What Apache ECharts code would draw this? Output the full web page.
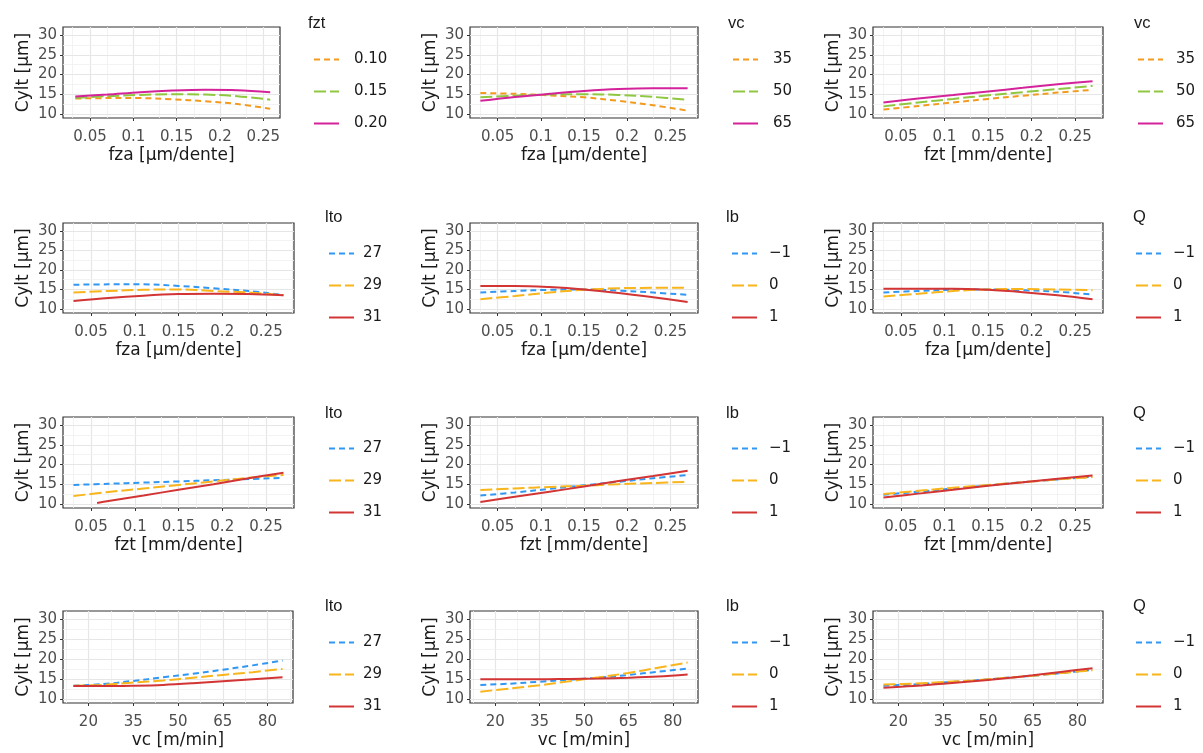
<!DOCTYPE html>
<html>
<head>
<meta charset="utf-8">
<script src="https://cdn.jsdelivr.net/npm/echarts@6/dist/echarts.min.js"></script>
<style>
    html, body { margin: 0; padding: 0; background: #fff; }
    #main { width: 1203px; height: 753px; }
</style>
</head>
<body>
<div id="main"></div>
<script>
    // x values of the fitted curves
    var fzX = [0.03, 0.07, 0.11, 0.15, 0.19, 0.23, 0.27];
    var fzX1 = [0.033, 0.07, 0.108, 0.145, 0.183, 0.22, 0.258];
    var fzX31 = [0.057, 0.07, 0.11, 0.15, 0.19, 0.23, 0.27];
    var vcX = [15, 25, 35, 45, 55, 65, 75, 85];

    // row 1: fza by fzt, fza by vc, fzt by vc
    var fza_fzt010 = [13.9, 14.0, 14.0, 13.7, 13.2, 12.5, 11.3];
    var fza_fzt015 = [14.0, 14.5, 14.8, 15.0, 14.9, 14.5, 13.6];
    var fza_fzt020 = [14.4, 14.9, 15.5, 15.9, 16.1, 16.0, 15.5];
    var fza_vc35 = [15.3, 15.1, 14.7, 14.2, 13.3, 12.2, 10.8];
    var fza_vc50 = [14.2, 14.6, 14.9, 15.0, 14.8, 14.3, 13.6];
    var fza_vc65 = [13.3, 14.3, 15.1, 15.8, 16.3, 16.5, 16.5];
    var fzt_vc35 = [11.1, 12.0, 12.9, 13.8, 14.6, 15.4, 16.1];
    var fzt_vc50 = [11.9, 12.9, 13.8, 14.7, 15.5, 16.3, 17.1];
    var fzt_vc65 = [12.9, 13.9, 14.8, 15.7, 16.6, 17.5, 18.3];

    // row 2: fza by lto, lb, Q
    var fza_lto27 = [16.2, 16.3, 16.3, 15.9, 15.3, 14.6, 13.6];
    var fza_lto29 = [14.2, 14.6, 14.9, 15.0, 14.6, 14.2, 13.5];
    var fza_lto31 = [12.0, 12.8, 13.4, 13.8, 13.9, 13.8, 13.5];
    var fza_lbM1 = [14.2, 14.6, 14.9, 15.0, 14.7, 14.2, 13.6];
    var fza_lb0 = [12.5, 13.3, 14.2, 14.9, 15.3, 15.4, 15.4];
    var fza_lb1 = [15.9, 15.9, 15.6, 15.0, 14.1, 13.0, 11.8];
    var fza_qM1 = [14.2, 14.6, 14.9, 15.0, 14.8, 14.4, 13.7];
    var fza_q0 = [13.2, 13.9, 14.6, 15.0, 15.1, 15.0, 14.8];
    var fza_q1 = [15.2, 15.2, 15.2, 14.9, 14.3, 13.5, 12.5];

    // row 3: fzt by lto, lb, Q
    var fzt_lto27 = [14.8, 15.1, 15.4, 15.7, 16.0, 16.3, 16.6];
    var fzt_lto29 = [12.0, 13.0, 13.9, 14.8, 15.7, 16.6, 17.3];
    var fzt_lto31 = [10.2, 10.7, 12.1, 13.6, 15.0, 16.5, 17.9];
    var fzt_lbM1 = [12.1, 12.9, 13.8, 14.7, 15.6, 16.5, 17.3];
    var fzt_lb0 = [13.5, 13.9, 14.3, 14.6, 15.0, 15.3, 15.6];
    var fzt_lb1 = [10.5, 11.8, 13.1, 14.4, 15.8, 17.1, 18.4];
    var fzt_qM1 = [12.3, 13.1, 13.9, 14.7, 15.5, 16.2, 16.9];
    var fzt_q0 = [12.5, 13.3, 14.1, 14.8, 15.5, 16.2, 16.8];
    var fzt_q1 = [11.6, 12.6, 13.6, 14.6, 15.5, 16.4, 17.2];

    // row 4: vc by lto, lb, Q
    var vc_lto27 = [13.3, 13.7, 14.5, 15.4, 16.3, 17.3, 18.4, 19.6];
    var vc_lto29 = [13.3, 13.5, 14.1, 14.6, 15.3, 16.0, 16.7, 17.5];
    var vc_lto31 = [13.2, 13.2, 13.3, 13.5, 13.9, 14.4, 14.9, 15.4];
    var vc_lbM1 = [13.5, 13.8, 14.3, 14.8, 15.3, 16.0, 16.8, 17.6];
    var vc_lb0 = [11.8, 12.6, 13.4, 14.4, 15.4, 16.5, 17.8, 19.1];
    var vc_lb1 = [14.9, 14.9, 14.9, 15.0, 15.1, 15.3, 15.6, 16.1];
    var vc_qM1 = [13.3, 13.6, 14.1, 14.6, 15.2, 15.8, 16.5, 17.3];
    var vc_q0 = [13.6, 13.8, 14.2, 14.6, 15.2, 15.8, 16.5, 17.2];
    var vc_q1 = [12.8, 13.2, 13.8, 14.4, 15.1, 15.9, 16.8, 17.7];

    // tick labels
    var fzTicks = [0.05, 0.1, 0.15, 0.2, 0.25];
    var vcTicks = [20, 35, 50, 65, 80];
    var yTicks = [10, 15, 20, 25, 30];

    var namesFzt = ['0.10', '0.15', '0.20'];
    var namesVc = ['35', '50', '65'];
    var namesLto = ['27', '29', '31'];
    var namesLevel = ['\u22121', '0', '1'];

    var FONT = '"DejaVu Sans", sans-serif';
    var colsA = ['#F29B1E', '#8FC740', '#D4239A'];
    var colsB = ['#3197F2', '#F8B51C', '#D33434'];
    var dashes = [[6, 4], [12, 4], 'solid'];

    var fzRange = [0.018, 0.282], fzRange1 = [0.0188, 0.2693], vcRange = [11.5, 88.5], yRange = [8.95, 32.05];

    var panels = [
        { x: fzX1, xr: fzRange1, xName: 'fza [µm/dente]', title: 'fzt', names: namesFzt, ys: [fza_fzt010, fza_fzt015, fza_fzt020], colors: colsA },
        { x: fzX, xName: 'fza [µm/dente]', title: 'vc', names: namesVc, ys: [fza_vc35, fza_vc50, fza_vc65], colors: colsA },
        { x: fzX, xName: 'fzt [mm/dente]', title: 'vc', names: namesVc, ys: [fzt_vc35, fzt_vc50, fzt_vc65], colors: colsA },
        { x: fzX, xName: 'fza [µm/dente]', title: 'lto', names: namesLto, ys: [fza_lto27, fza_lto29, fza_lto31], colors: colsB },
        { x: fzX, xName: 'fza [µm/dente]', title: 'lb', names: namesLevel, ys: [fza_lbM1, fza_lb0, fza_lb1], colors: colsB },
        { x: fzX, xName: 'fza [µm/dente]', title: 'Q', names: namesLevel, ys: [fza_qM1, fza_q0, fza_q1], colors: colsB },
        { x: fzX, xs: [fzX, fzX, fzX31], xName: 'fzt [mm/dente]', title: 'lto', names: namesLto, ys: [fzt_lto27, fzt_lto29, fzt_lto31], colors: colsB },
        { x: fzX, xName: 'fzt [mm/dente]', title: 'lb', names: namesLevel, ys: [fzt_lbM1, fzt_lb0, fzt_lb1], colors: colsB },
        { x: fzX, xName: 'fzt [mm/dente]', title: 'Q', names: namesLevel, ys: [fzt_qM1, fzt_q0, fzt_q1], colors: colsB },
        { x: vcX, vc: true, xName: 'vc [m/min]', title: 'lto', names: namesLto, ys: [vc_lto27, vc_lto29, vc_lto31], colors: colsB },
        { x: vcX, vc: true, xName: 'vc [m/min]', title: 'lb', names: namesLevel, ys: [vc_lbM1, vc_lb0, vc_lb1], colors: colsB },
        { x: vcX, vc: true, xName: 'vc [m/min]', title: 'Q', names: namesLevel, ys: [vc_qM1, vc_q0, vc_q1], colors: colsB }
    ];

    // layout (pixels)
    var rowTop = [27, 223, 417, 611];
    var rowH = [91, 90, 91, 92];
    var colLeft = [63, 470, 873];
    var colW = [[217, 228, 230], [231, 228, 230], [231, 228, 230], [230, 228, 230]];
    var legendItemY = [57, 251, 446, 640];
    var legendTitleY = [22, 216, 412, 605];

    // light grey panel grid: major at ticks, minor half way
    function gridMarks(axis, base, step, min, max) {
        var out = [];
        var half = step / 2;
        var k0 = Math.ceil((min - base) / half), k1 = Math.floor((max - base) / half);
        for (var k = k0; k <= k1; k++) {
            var item = {};
            item[axis] = +(base + k * half).toFixed(6);
            var major = (k % 2 === 0);
            item.lineStyle = { color: major ? '#E6E6E6' : '#F0F0F0', width: major ? 1.2 : 0.8, type: 'solid' };
            out.push(item);
        }
        return out;
    }

    var grid = [], xAxis = [], yAxis = [], series = [], legend = [], graphic = [];

    panels.forEach(function (p, i) {
        var row = Math.floor(i / 3), col = i % 3;
        var xr = p.xr || (p.vc ? vcRange : fzRange);
        var xt = p.vc ? vcTicks : fzTicks;

        grid.push({
            left: colLeft[col], top: rowTop[row], width: colW[row][col], height: rowH[row],
            show: true, borderColor: '#333333', borderWidth: 1.2, backgroundColor: 'transparent',
            outerBoundsMode: 'none', containLabel: false
        });
        xAxis.push({
            gridIndex: i, type: 'value', min: xr[0], max: xr[1],
            name: p.xName, nameLocation: 'middle', nameGap: 29,
            nameTextStyle: { fontSize: 17, color: '#1a1a1a', fontFamily: FONT },
            axisLine: { show: false },
            axisTick: { show: true, customValues: xt, length: 3, lineStyle: { color: '#333333', width: 1 } },
            axisLabel: { customValues: xt, margin: 12, fontSize: 15, color: '#4D4D4D', fontFamily: FONT },
            splitLine: { show: false }
        });
        yAxis.push({
            gridIndex: i, type: 'value', min: yRange[0], max: yRange[1],
            name: 'Cylt [µm]', nameLocation: 'middle', nameGap: 31,
            nameTextStyle: { fontSize: 17, color: '#1a1a1a', fontFamily: FONT },
            axisLine: { show: false },
            axisTick: { show: true, customValues: yTicks, length: 3, lineStyle: { color: '#333333', width: 1 } },
            axisLabel: { customValues: yTicks, margin: 6, fontSize: 15, color: '#4D4D4D', fontFamily: FONT },
            splitLine: { show: false }
        });

        p.ys.forEach(function (ys, k) {
            var xs = p.xs ? p.xs[k] : p.x;
            var s = {
                type: 'line', name: p.names[k], xAxisIndex: i, yAxisIndex: i,
                data: ys.map(function (v, j) { return [xs[j], v]; }),
                symbol: 'none', showSymbol: false, smooth: 0.35,
                lineStyle: { color: p.colors[k], width: 2, type: dashes[k] },
                itemStyle: { color: p.colors[k] },
                animation: false, z: 3
            };
            if (k === 0) {
                s.markLine = {
                    silent: true, z: 1, symbol: ['none', 'none'], animation: false,
                    label: { show: false },
                    data: gridMarks('xAxis', xt[0], xt[1] - xt[0], xr[0], xr[1])
                        .concat(gridMarks('yAxis', 10, 5, yRange[0], yRange[1]))
                };
            }
            series.push(s);
        });

        var keyLeft = row === 0 ? [313, 732, 1137] : [328, 731, 1135];
        var textPad = row === 0 ? [10, 10, 8] : [4, 7, 7];
        var titleLeft = row === 0 ? [308, 728, 1134] : [325, 726, 1133];
        legend.push({
            orient: 'vertical', left: keyLeft[col], top: legendItemY[row] - 5, padding: 0,
            itemWidth: 25, itemHeight: 14, itemGap: 17, selectedMode: false,
            data: p.names,
            itemStyle: { color: 'transparent', borderColor: 'transparent', borderWidth: 0, opacity: 0 },
            textStyle: { fontSize: 15, color: '#1a1a1a', fontFamily: FONT, padding: [0, 0, 0, textPad[col]] }
        });
        graphic.push({
            type: 'text', left: titleLeft[col], top: legendTitleY[row] - 7,
            style: { text: p.title, fontSize: 16.5, fill: '#1a1a1a', font: '16.5px ' + FONT }
        });
    });

    var myChart = echarts.init(document.getElementById('main'));
    myChart.setOption({
        animation: false,
        backgroundColor: '#ffffff',
        grid: grid, xAxis: xAxis, yAxis: yAxis,
        legend: legend, graphic: graphic, series: series
    });
</script>
</body>
</html>
